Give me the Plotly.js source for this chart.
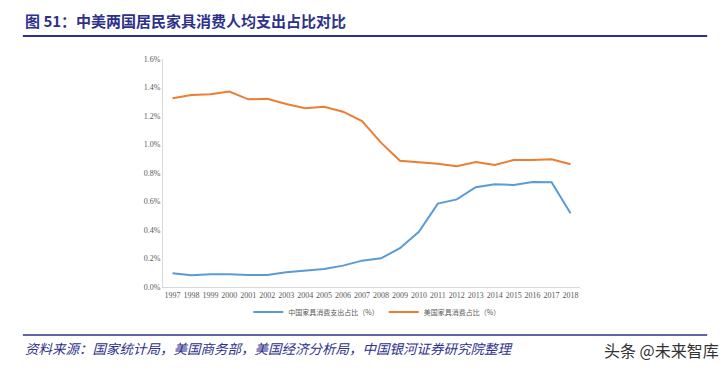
<!DOCTYPE html>
<html><head><meta charset="utf-8">
<script src="https://cdn.plot.ly/plotly-3.0.1.min.js"></script>
<style>html,body{margin:0;padding:0;background:#fff;}#chart{width:728px;height:375px;}</style>
</head><body><div id="chart"></div>
<script>
const years = ['1997','1998','1999','2000','2001','2002','2003','2004','2005','2006','2007','2008','2009','2010','2011','2012','2013','2014','2015','2016','2017','2018'];
const chinaShare = [0.096,0.082,0.090,0.090,0.084,0.084,0.104,0.113,0.126,0.150,0.185,0.201,0.272,0.388,0.585,0.615,0.700,0.721,0.716,0.737,0.735,0.517];
const usShare = [1.325,1.347,1.352,1.371,1.317,1.321,1.284,1.254,1.265,1.230,1.165,1.013,0.886,0.877,0.865,0.847,0.877,0.856,0.891,0.891,0.896,0.861];
const seriesNames = ['中国家具消费支出占比（%）','美国家具消费占比（%）'];
const titleText = '图 51：中美两国居民家具消费人均支出占比对比';
const sourceText = '资料来源：国家统计局，美国商务部，美国经济分析局，中国银河证券研究院整理';
const watermark = '头条 @未来智库';

const W=728,H=375, L=162.5, R=580.5, T=59, B=287;
const px = x => (x-L)/(R-L);
const py = y => (B-y)/(B-T);
const navy = '#2e318c';

const traces = [
  {x: years, y: chinaShare.map(v=>v/100), type:'scatter', mode:'lines', name: seriesNames[0], line:{color:'#5b9bd5', width:2}},
  {x: years, y: usShare.map(v=>v/100), type:'scatter', mode:'lines', name: seriesNames[1], line:{color:'#ed7d31', width:2}}
];
const layout = {
  width:W, height:H, paper_bgcolor:'#fff', plot_bgcolor:'#fff',
  margin:{l:L, r:W-R, t:T, b:H-B, pad:0},
  showlegend:true,
  legend:{orientation:'h', x:px(248), xanchor:'left', y:py(312), yanchor:'middle', font:{family:'Noto Sans CJK SC', size:7, color:'#595959'}, itemwidth:30, tracegroupgap:0},
  xaxis:{type:'category', range:[-0.5,21.5], showline:true, linecolor:'#d9d9d9', linewidth:1, showgrid:false, zeroline:false, ticks:'', tickfont:{family:'Liberation Serif', size:8, color:'#595959'}, tickangle:0, fixedrange:true},
  yaxis:{range:[0,0.016], dtick:0.002, tickformat:'.1%', showline:true, linecolor:'#d9d9d9', linewidth:1, showgrid:false, zeroline:false, ticks:'', ticklen:0, tickfont:{family:'Liberation Serif', size:8, color:'#595959'}, fixedrange:true},
  shapes:[
    {type:'line', xref:'paper', yref:'paper', x0:px(22), x1:px(708), y0:py(36), y1:py(36), line:{color:navy, width:2}},
    {type:'line', xref:'paper', yref:'paper', x0:px(22), x1:px(708), y0:py(335), y1:py(335), line:{color:navy, width:1.5}}
  ],
  annotations:[
    {text:'<b>'+titleText+'</b>', xref:'paper', yref:'paper', x:px(22), y:py(21), xanchor:'left', yanchor:'middle', showarrow:false, font:{family:'Noto Sans CJK SC', size:15, color:navy}},
    {text:'<i>'+sourceText+'</i>', xref:'paper', yref:'paper', x:px(22), y:py(348), xanchor:'left', yanchor:'middle', showarrow:false, font:{family:'Noto Sans CJK SC', size:13.5, color:navy}},
    {text:watermark, xref:'paper', yref:'paper', x:px(722), y:py(350), xanchor:'right', yanchor:'middle', showarrow:false, font:{family:'Noto Sans CJK SC', size:16, color:'#333'}}
  ]
};
Plotly.newPlot('chart', traces, layout, {displayModeBar:false, staticPlot:true});
</script></body></html>
